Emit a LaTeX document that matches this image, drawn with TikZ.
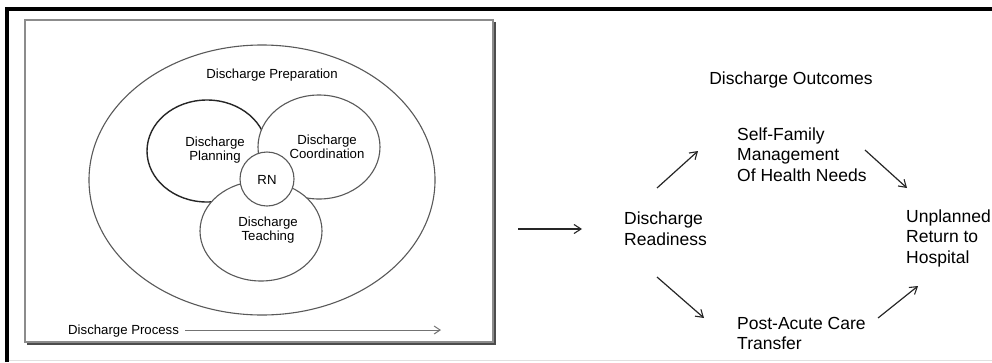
\documentclass[tikz,border=0pt]{standalone}
\usepackage{fontspec}
\setmainfont{Liberation Sans}
\usetikzlibrary{arrows.meta}
\begin{document}
\begin{tikzpicture}[x=1pt,y=-1pt,
  lbl/.style={inner sep=0pt,font=\fontsize{13.2}{13.8}\selectfont,align=center,text=black},
  rlbl/.style={inner sep=0pt,font=\fontsize{17.5}{20.5}\selectfont,align=left,anchor=west,text=black},
  circ/.style={draw=black!65,line width=1.1pt,fill=white},
  conn/.style={draw=black!85,line width=1.2pt,-{Straight Barb[length=7pt,width=9pt,line width=1.1pt]}}]
\useasboundingbox (0,0) rectangle (992,362);
% outer frame
\draw[black,line width=4pt] (7,362) -- (7,8.5) -- (992,8.5);
\draw[black!12,line width=1pt] (9,360.5) -- (992,360.5);
% inner box with shadow
\draw[black!70,line width=2.2pt] (27,344) -- (495,344) -- (495,22);
\draw[black!45,line width=1.4pt,fill=white] (25,20) rectangle (493,342);
% ellipses
\draw[circ] (262,180) ellipse [x radius=173,y radius=135];
\draw[circ,draw=black!85,line width=1.4pt] (207,151) ellipse [x radius=60,y radius=51];
\draw[circ] (319,147) ellipse [x radius=61,y radius=52];
\draw[circ] (261,231) ellipse [x radius=61,y radius=50];
\draw[circ] (267,179) circle [radius=27];
\node[lbl] (prep) at (272,75) {Discharge Preparation};
\node[lbl] (plan) at (215,150) {Discharge\\Planning};
\node[lbl] (coord) at (327,147) {Discharge\\Coordination};
\node[lbl] (teach) at (268,230) {Discharge\\Teaching};
\node[lbl] (rn) at (267,180) {RN};
\node[lbl,anchor=west] (proc) at (68,331) {Discharge Process};
\coordinate (procend) at (441,330);
\draw[draw=black!55,line width=1pt,-{Straight Barb[length=6pt,width=8pt,line width=1pt]}] (proc.east) ++(6,-1) -- (procend);
% right side
\node[rlbl,anchor=center] (out) at (791,80) {Discharge Outcomes};
\node[rlbl] (ready) at (624,228.5) {Discharge\\Readiness};
\node[rlbl] (self) at (737,154.5) {Self-Family\\Management\\Of Health Needs};
\node[rlbl] (unpl) at (906,238) {Unplanned\\Return to\\Hospital};
\node[rlbl] (post) at (737,333.5) {Post-Acute Care\\Transfer};
\coordinate (inA) at (518,229);
\coordinate (inB) at (582,229);
\draw[conn] (inA) -- (inB);
\coordinate (rsA) at (657,188); \coordinate (rsB) at (698,151);
\draw[conn] (rsA) -- (rsB);
\coordinate (suA) at (865,150); \coordinate (suB) at (907,188);
\draw[conn] (suA) -- (suB);
\coordinate (rpA) at (657,277); \coordinate (rpB) at (704,318);
\draw[conn] (rpA) -- (rpB);
\coordinate (puA) at (878,318); \coordinate (puB) at (918,286);
\draw[conn] (puA) -- (puB);
\end{tikzpicture}
\end{document}
